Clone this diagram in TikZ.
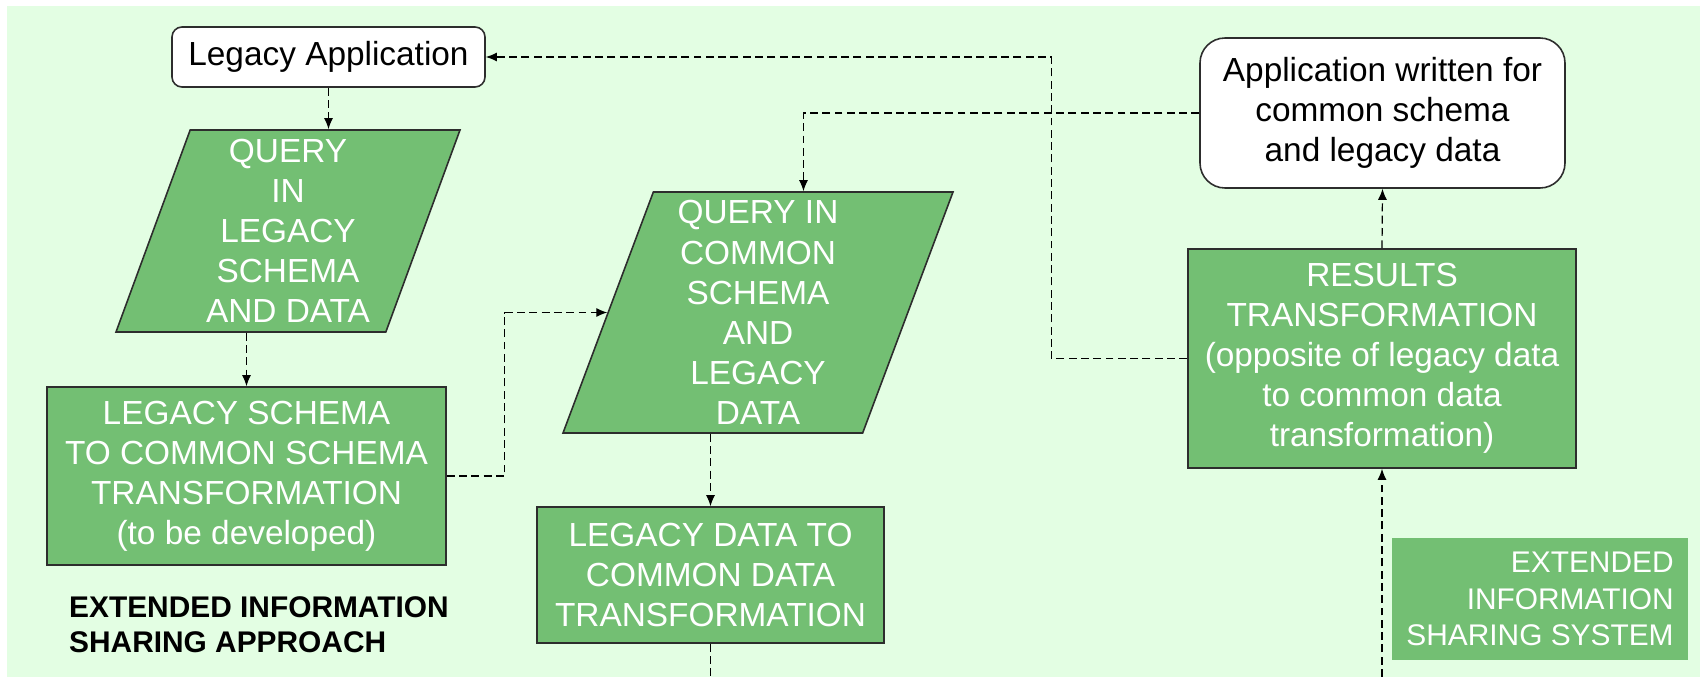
\documentclass[tikz,border=0pt]{standalone}
\usepackage{fontspec}
\setmainfont{Liberation Sans}
\usetikzlibrary{shapes.geometric,arrows.meta}

\definecolor{flowgreen}{RGB}{115,191,115}
\definecolor{sheetgreen}{RGB}{227,254,227}
\definecolor{edgegray}{RGB}{45,45,45}

\begin{document}
\begin{tikzpicture}[
        boxfont/.style = {font = \fontsize{19}{22.8}\selectfont},
        greenbox/.style = {draw = edgegray, line width = 0.9pt, fill = flowgreen, text = white,
                           align = center, boxfont, inner sep = 0pt},
        whitebox/.style = {draw = edgegray, line width = 0.9pt, fill = white,
                           align = center, boxfont, inner sep = 0pt},
        slanted/.style = {greenbox, trapezium, trapezium left angle = 68, trapezium right angle = 112,
                          trapezium stretches body},
        dashline/.style = {dash pattern = on 4.5pt off 2.5pt, line width = 0.7pt},
        link/.style = {dashline, -{Latex[length = 2.2mm, width = 1.8mm]}}
    ]
    \useasboundingbox (0,0) rectangle (34,-13.54);
    \fill[sheetgreen] (0.14,-0.12) rectangle (34,-13.54);
    \coordinate (bottomedge) at (0,-13.54);

    % left column
    \node[whitebox, rounded corners = 0.2cm, minimum width = 6.26cm, minimum height = 1.2cm]
        (legacy) at (6.57,-1.14) {Legacy Application};
    \node[slanted, minimum width = 6.88cm, minimum height = 4.04cm]
        (p1) at (5.76,-4.62) {QUERY\\IN\\LEGACY\\SCHEMA\\AND DATA};
    \node[greenbox, minimum width = 7.98cm, minimum height = 3.56cm]
        (schema) at (4.93,-9.52) {LEGACY SCHEMA\\TO COMMON SCHEMA\\TRANSFORMATION\\(to be developed)};
    \node[anchor = west, align = left, font = \fontsize{17}{19.9}\selectfont\bfseries]
        (approach) at (1.26,-12.49) {EXTENDED INFORMATION\\SHARING APPROACH};

    % middle column
    \node[slanted, minimum width = 7.8cm, minimum height = 4.82cm]
        (p2) at (15.16,-6.25) {QUERY IN\\COMMON\\SCHEMA\\AND\\LEGACY\\DATA};
    \node[greenbox, minimum width = 6.94cm, minimum height = 2.72cm]
        (data) at (14.21,-11.5) {LEGACY DATA TO\\COMMON DATA\\TRANSFORMATION};

    % right column
    \node[whitebox, rounded corners = 0.5cm, minimum width = 7.3cm, minimum height = 3cm]
        (app) at (27.65,-2.26) {Application written for\\common schema\\and legacy data};
    \node[greenbox, minimum width = 7.76cm, minimum height = 4.38cm]
        (results) at (27.64,-7.17) {RESULTS\\TRANSFORMATION\\(opposite of legacy data\\to common data\\transformation)};
    \node[fill = flowgreen, text = white, align = right, inner sep = 0pt,
          minimum width = 5.92cm, minimum height = 2.44cm, font = \fontsize{17}{20.8}\selectfont]
        (extsys) at (30.8,-11.98) {EXTENDED\\INFORMATION\\SHARING SYSTEM};

    % connectors
    \draw[link] (legacy.south) -- (legacy.south |- p1.north);
    \draw[link] (schema.north |- p1.south) -- (schema.north);
    \draw[link] (schema.east) -- ++(1.16,0) |- (p2.left side);
    \draw[link] (app.west) -| (p2.top side);
    \draw[link] (data.north |- p2.south) -- (data.north);
    \draw[dashline] (data.south) -- (data.south |- bottomedge);
    \draw[link] (results.north) -- (app.south);
    \draw[link] (results.south |- bottomedge) -- (results.south);
    \draw[link] (results.west) -- ++(-2.72,0) |- (legacy.east);
\end{tikzpicture}
\end{document}
